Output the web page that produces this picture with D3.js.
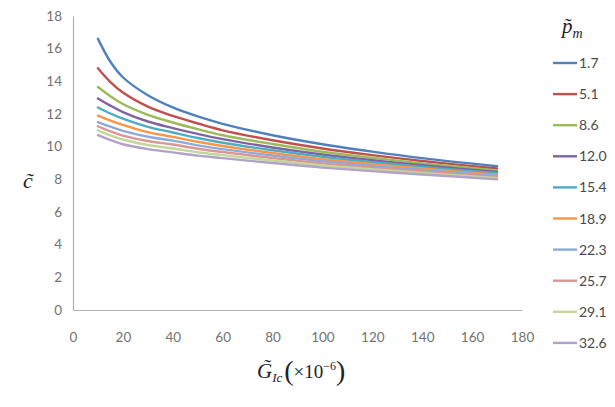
<!DOCTYPE html>
<html>
<head>
<meta charset="utf-8">
<script src="https://cdn.jsdelivr.net/npm/d3@7"></script>
<style>
  body { margin: 0; background: #fff; }
  svg text { font-family: Lato, "Open Sans", sans-serif; }
  .serif { font-family: "Liberation Serif", "DejaVu Serif", serif; font-style: italic; }
</style>
</head>
<body>
<div class="container"></div>
<script>
var w = 615, h = 407;

// x values (G_Ic x 1e-6) where the curves were read
var gIc = [10, 15, 20, 30, 40, 50, 60, 80, 100, 120, 140, 170];
var pmLabels = ["1.7", "5.1", "8.6", "12.0", "15.4", "18.9", "22.3", "25.7", "29.1", "32.6"];
var colors = ["#4f81bd", "#c0504d", "#9bbb59", "#8064a2", "#4bacc6",
              "#f79646", "#8eaadb", "#d99694", "#c3d69b", "#b3a2c7"];

var c_1_7  = [16.6, 15.2, 14.25, 13.15, 12.4, 11.85, 11.4, 10.7, 10.15, 9.7, 9.3, 8.8];
var c_5_1  = [14.8, 13.95, 13.31, 12.45, 11.88, 11.42, 11.0, 10.39, 9.89, 9.48, 9.12, 8.66];
var c_8_6  = [13.65, 13.09, 12.61, 11.95, 11.48, 11.07, 10.7, 10.16, 9.69, 9.32, 8.98, 8.54];
var c_12_0 = [12.95, 12.51, 12.12, 11.54, 11.14, 10.78, 10.46, 9.95, 9.52, 9.17, 8.86, 8.45];
var c_15_4 = [12.4, 12.03, 11.71, 11.21, 10.87, 10.53, 10.24, 9.78, 9.38, 9.05, 8.76, 8.37];
var c_18_9 = [11.9, 11.6, 11.34, 10.89, 10.6, 10.3, 10.04, 9.61, 9.23, 8.93, 8.66, 8.29];
var c_22_3 = [11.5, 11.22, 10.97, 10.61, 10.37, 10.08, 9.85, 9.46, 9.11, 8.82, 8.57, 8.22];
var c_25_7 = [11.25, 10.93, 10.68, 10.35, 10.13, 9.87, 9.67, 9.31, 8.98, 8.72, 8.48, 8.14];
var c_29_1 = [11.0, 10.69, 10.44, 10.1, 9.89, 9.66, 9.48, 9.15, 8.85, 8.61, 8.39, 8.07];
var c_32_6 = [10.7, 10.4, 10.15, 9.85, 9.65, 9.45, 9.3, 9.0, 8.72, 8.5, 8.3, 8.0];

var series = [c_1_7, c_5_1, c_8_6, c_12_0, c_15_4, c_18_9, c_22_3, c_25_7, c_29_1, c_32_6];

var xTicks = [0, 20, 40, 60, 80, 100, 120, 140, 160, 180];
var yTicks = [0, 2, 4, 6, 8, 10, 12, 14, 16, 18];

var svg = d3.select(".container").append("svg").attr("width", w).attr("height", h);

var x = d3.scaleLinear().domain([0, 180]).range([73, 522]);
var y = d3.scaleLinear().domain([0, 18]).range([310, 16]);

// axes
var gx = svg.append("g").attr("transform", "translate(0," + y(0) + ")")
  .call(d3.axisBottom(x).tickValues(xTicks).tickSize(0).tickPadding(22));
var gy = svg.append("g").attr("transform", "translate(" + x(0) + ",0)")
  .call(d3.axisLeft(y).tickValues(yTicks).tickSize(0).tickPadding(11));
[gx, gy].forEach(function(g){
  g.select(".domain").attr("stroke", "#aeb0c4").attr("stroke-width", 1.2);
  g.selectAll("text").attr("fill", "#737373").style("font-size", "13.5px")
    .style("font-family", "Lato, sans-serif");
});

// curves
var line = d3.line()
  .x(function(d, i){ return x(gIc[i]); })
  .y(function(d){ return y(d); })
  .curve(d3.curveCatmullRom.alpha(0.5));

svg.append("g").selectAll("path").data(series).enter().append("path")
  .attr("d", line)
  .attr("fill", "none")
  .attr("stroke", function(d, i){ return colors[i]; })
  .attr("stroke-width", 2.4)
  .attr("stroke-linecap", "round");

// legend
var leg = svg.append("g");
var title = leg.append("text").attr("class", "serif").attr("x", 562).attr("y", 33)
  .attr("fill", "#222").style("font-size", "21px");
title.append("tspan").text("p\u0303");
title.append("tspan").attr("dy", 5).style("font-size", "14px").text("m");

var items = leg.selectAll("g.item").data(pmLabels).enter().append("g").attr("class", "item")
  .attr("transform", function(d, i){ return "translate(0," + (63 + i * 31.1) + ")"; });
items.append("line").attr("x1", 553).attr("x2", 577).attr("y1", 0).attr("y2", 0)
  .attr("stroke", function(d, i){ return colors[i]; }).attr("stroke-width", 2.4);
items.append("text").attr("x", 579).attr("y", 5).attr("fill", "#4a4a4a")
  .style("font-size", "14px").text(function(d){ return d; });

// axis titles
svg.append("text").attr("class", "serif").attr("x", 28).attr("y", 188)
  .attr("text-anchor", "middle").attr("fill", "#222").style("font-size", "22px").text("c\u0303");

var xt = svg.append("text").attr("class", "serif").attr("x", 257).attr("y", 378)
  .attr("fill", "#222").style("font-size", "21px");
xt.append("tspan").text("G\u0303");
xt.append("tspan").attr("dy", 4).style("font-size", "13px").text("Ic");
xt.append("tspan").attr("dy", -2).attr("dx", 2).style("font-style", "normal").style("font-size", "28px")
  .attr("font-weight", 100).text("(");
xt.append("tspan").attr("dy", -2).style("font-style", "normal").style("font-size", "19px").text("\u00d710");
xt.append("tspan").attr("dy", -8).style("font-style", "normal").style("font-size", "12px").text("\u22126");
xt.append("tspan").attr("dy", 10).style("font-style", "normal").style("font-size", "28px").text(")");
</script>
</body>
</html>
